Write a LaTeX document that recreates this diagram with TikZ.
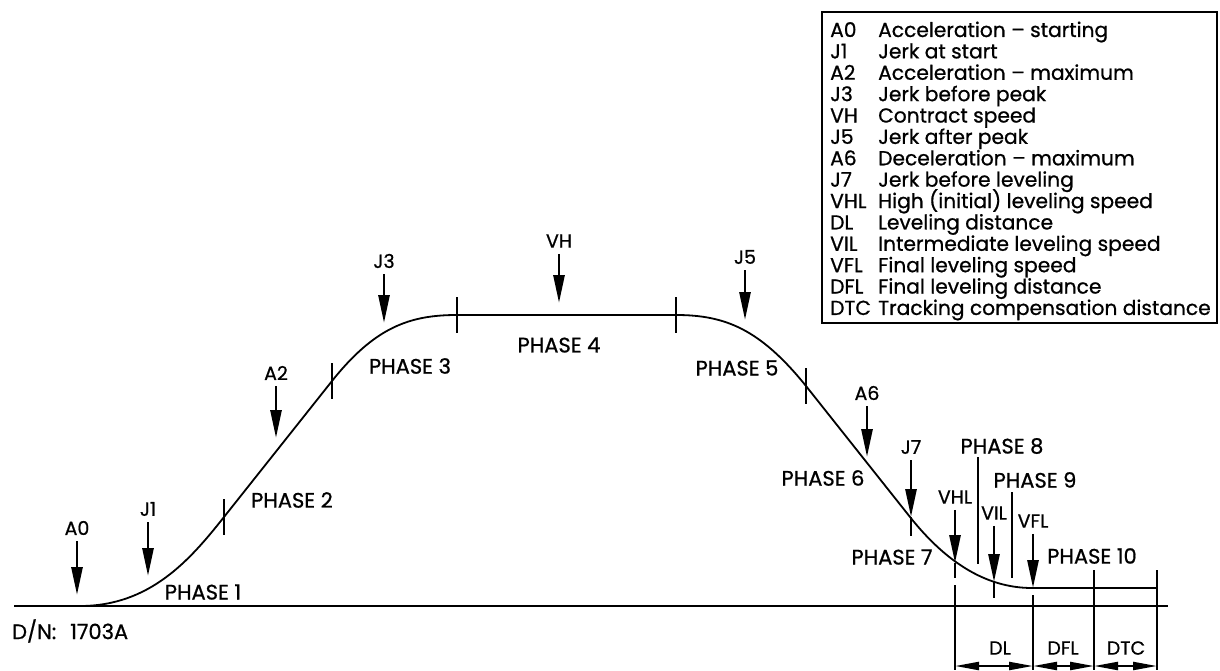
\documentclass[tikz,border=0pt]{standalone}
\usepackage{fontspec}
\setmainfont{Poppins}[FakeBold=0.8]
\usetikzlibrary{arrows.meta}

\begin{document}
\begin{tikzpicture}[x=1pt,y=-1pt,
  phase/.style={font=\fontsize{21}{21}\selectfont, inner sep=0pt},
  tag/.style={font=\fontsize{19}{19}\selectfont, inner sep=0pt},
  legend/.style={font=\fontsize{20.2}{20}\selectfont, inner sep=0pt, anchor=base west},
  curve/.style={line width=1.8pt},
  tick/.style={line width=2.4pt},
  pointer/.style={line width=2.8pt, shorten <=6pt, -{Triangle[length=28pt,width=11pt]}},
  dim/.style={line width=2.2pt, {Triangle[length=24pt,width=8pt]}-{Triangle[length=24pt,width=8pt]}}]
  \useasboundingbox (0,0) rectangle (1220,671);

  % points on the run profile
  \coordinate (s0) at (80,606);
  \coordinate (s1) at (224,517);
  \coordinate (s2) at (332,381);
  \coordinate (s3) at (457,315);
  \coordinate (s4) at (676,315);
  \coordinate (s5) at (806,386);
  \coordinate (s6) at (910,517);
  \coordinate (s7) at (1032,588);
  \coordinate (s8) at (1157,588);

  % floor line
  \coordinate (base l) at (14,606);
  \coordinate (base r) at (1168,606);
  \draw[curve] (base l) -- (base r);

  % speed profile
  \draw[curve] (s0) .. controls (150,606) and (190,560) .. (s1) -- (s2)
    .. controls (375,327) and (410,315) .. (s3) -- (s4)
    .. controls (725,315) and (760,329) .. (s5) -- (s6)
    .. controls (945,561) and (985,588) .. (s7) -- (s8);

  % phase ticks
  \foreach \p in {s1,s2,s3,s4,s5}
    \draw[tick] ([yshift=18pt]\p) -- ([yshift=-18pt]\p);

  % phase labels
  \node[phase] (ph1) at (203,592) {PHASE 1};
  \node[phase] (ph2) at (292,500) {PHASE 2};
  \node[phase] (ph3) at (410,366) {PHASE 3};
  \node[phase] (ph4) at (559,345) {PHASE 4};
  \node[phase] (ph5) at (737,368) {PHASE 5};
  \node[phase] (ph6) at (823,478) {PHASE 6};
  \node[phase] (ph7) at (892,557) {PHASE 7};
  \node[phase] (ph8) at (1002,446) {PHASE 8};
  \node[phase] (ph9) at (1035,480) {PHASE 9};
  \node[phase] (ph10) at (1092,556) {PHASE 10};

  % phase 8 and 9 markers
  \coordinate (m8 t) at (978,457);
  \coordinate (m8 b) at (978,564);
  \coordinate (m9 t) at (1012,492);
  \coordinate (m9 b) at (1012,578);
  \draw[tick] (m8 t) -- (m8 b);
  \draw[tick] (m9 t) -- (m9 b);

  % pointer labels
  \node[tag] (A0) at (77,528) {A0};
  \node[tag] (J1) at (148,509) {J1};
  \node[tag] (A2) at (276,373) {A2};
  \node[tag] (J3) at (384,261) {J3};
  \node[tag] (VH) at (559,241) {VH};
  \node[tag] (J5) at (745,257) {J5};
  \node[tag] (A6) at (867,393) {A6};
  \node[tag] (J7) at (911,447) {J7};
  \node[tag] (VHL) at (955,497) {VHL};
  \node[tag] (VIL) at (994,513) {VIL};
  \node[tag] (VFL) at (1033,521) {VFL};

  % pointer tips
  \coordinate (tA0) at (77,595);
  \coordinate (tJ1) at (148,576);
  \coordinate (tA2) at (276,438);
  \coordinate (tJ3) at (384,323);
  \coordinate (tVH) at (559,303);
  \coordinate (tJ5) at (745,320);
  \coordinate (tA6) at (867,457);
  \coordinate (tJ7) at (911,517);
  \coordinate (tVHL) at (955,563);
  \coordinate (tVIL) at (994,582);
  \coordinate (tVFL) at (1033,588);
  \foreach \t in {A0,J1,A2,J3,VH,J5,A6,J7,VHL,VIL,VFL}
    \draw[pointer] (\t.south) -- (t\t);

  % tails below the curve
  \coordinate (eJ7) at (911,536);
  \coordinate (eVHL) at (955,578);
  \coordinate (eVIL) at (994,598);
  \draw[tick] (tJ7) -- (eJ7);
  \draw[tick] (tVHL) -- (eVHL);
  \draw[tick] (tVIL) -- (eVIL);

  % extension lines
  \coordinate (x1 t) at (955,585);
  \coordinate (x1 b) at (955,670);
  \coordinate (x2 t) at (1033,595);
  \coordinate (x2 b) at (1033,670);
  \coordinate (x3 t) at (1094,570);
  \coordinate (x3 b) at (1094,670);
  \coordinate (x4 t) at (1157,570);
  \coordinate (x4 b) at (1157,670);
  \foreach \x in {x1,x2,x3,x4}
    \draw[tick] (\x\space t) -- (\x\space b);

  % dimensions
  \coordinate (d1) at (955,666);
  \coordinate (d2) at (1033,666);
  \coordinate (d3) at (1094,666);
  \coordinate (d4) at (1157,666);
  \draw[dim] (d1) -- (d2);
  \draw[dim] (d2) -- (d3);
  \draw[dim] (d3) -- (d4);
  \node[tag] (DL) at (1000,648) {DL};
  \node[tag] (DFL) at (1063,648) {DFL};
  \node[tag] (DTC) at (1126,648) {DTC};

  % drawing number
  \node[phase, anchor=west] (dn) at (12,631) {D/N:\hspace{14pt}1703A};

  % legend
  \coordinate (lg nw) at (822,12);
  \coordinate (lg se) at (1217,323);
  \draw[line width=1.6pt] (lg nw) rectangle (lg se);
  \foreach \c/\d [count=\i from 0] in {A0/Acceleration -- starting, J1/Jerk at start,
      A2/Acceleration -- maximum, J3/Jerk before peak, VH/Contract speed,
      J5/Jerk after peak, A6/Deceleration -- maximum, J7/Jerk before leveling,
      VHL/High (initial) leveling speed, DL/Leveling distance,
      VIL/Intermediate leveling speed, VFL/Final leveling speed,
      DFL/Final leveling distance, DTC/Tracking compensation distance} {
    \node[legend] (code\i) at (830,37+21.38*\i) {\c};
    \node[legend] (desc\i) at (878,37+21.38*\i) {\d};
  }
\end{tikzpicture}
\end{document}
